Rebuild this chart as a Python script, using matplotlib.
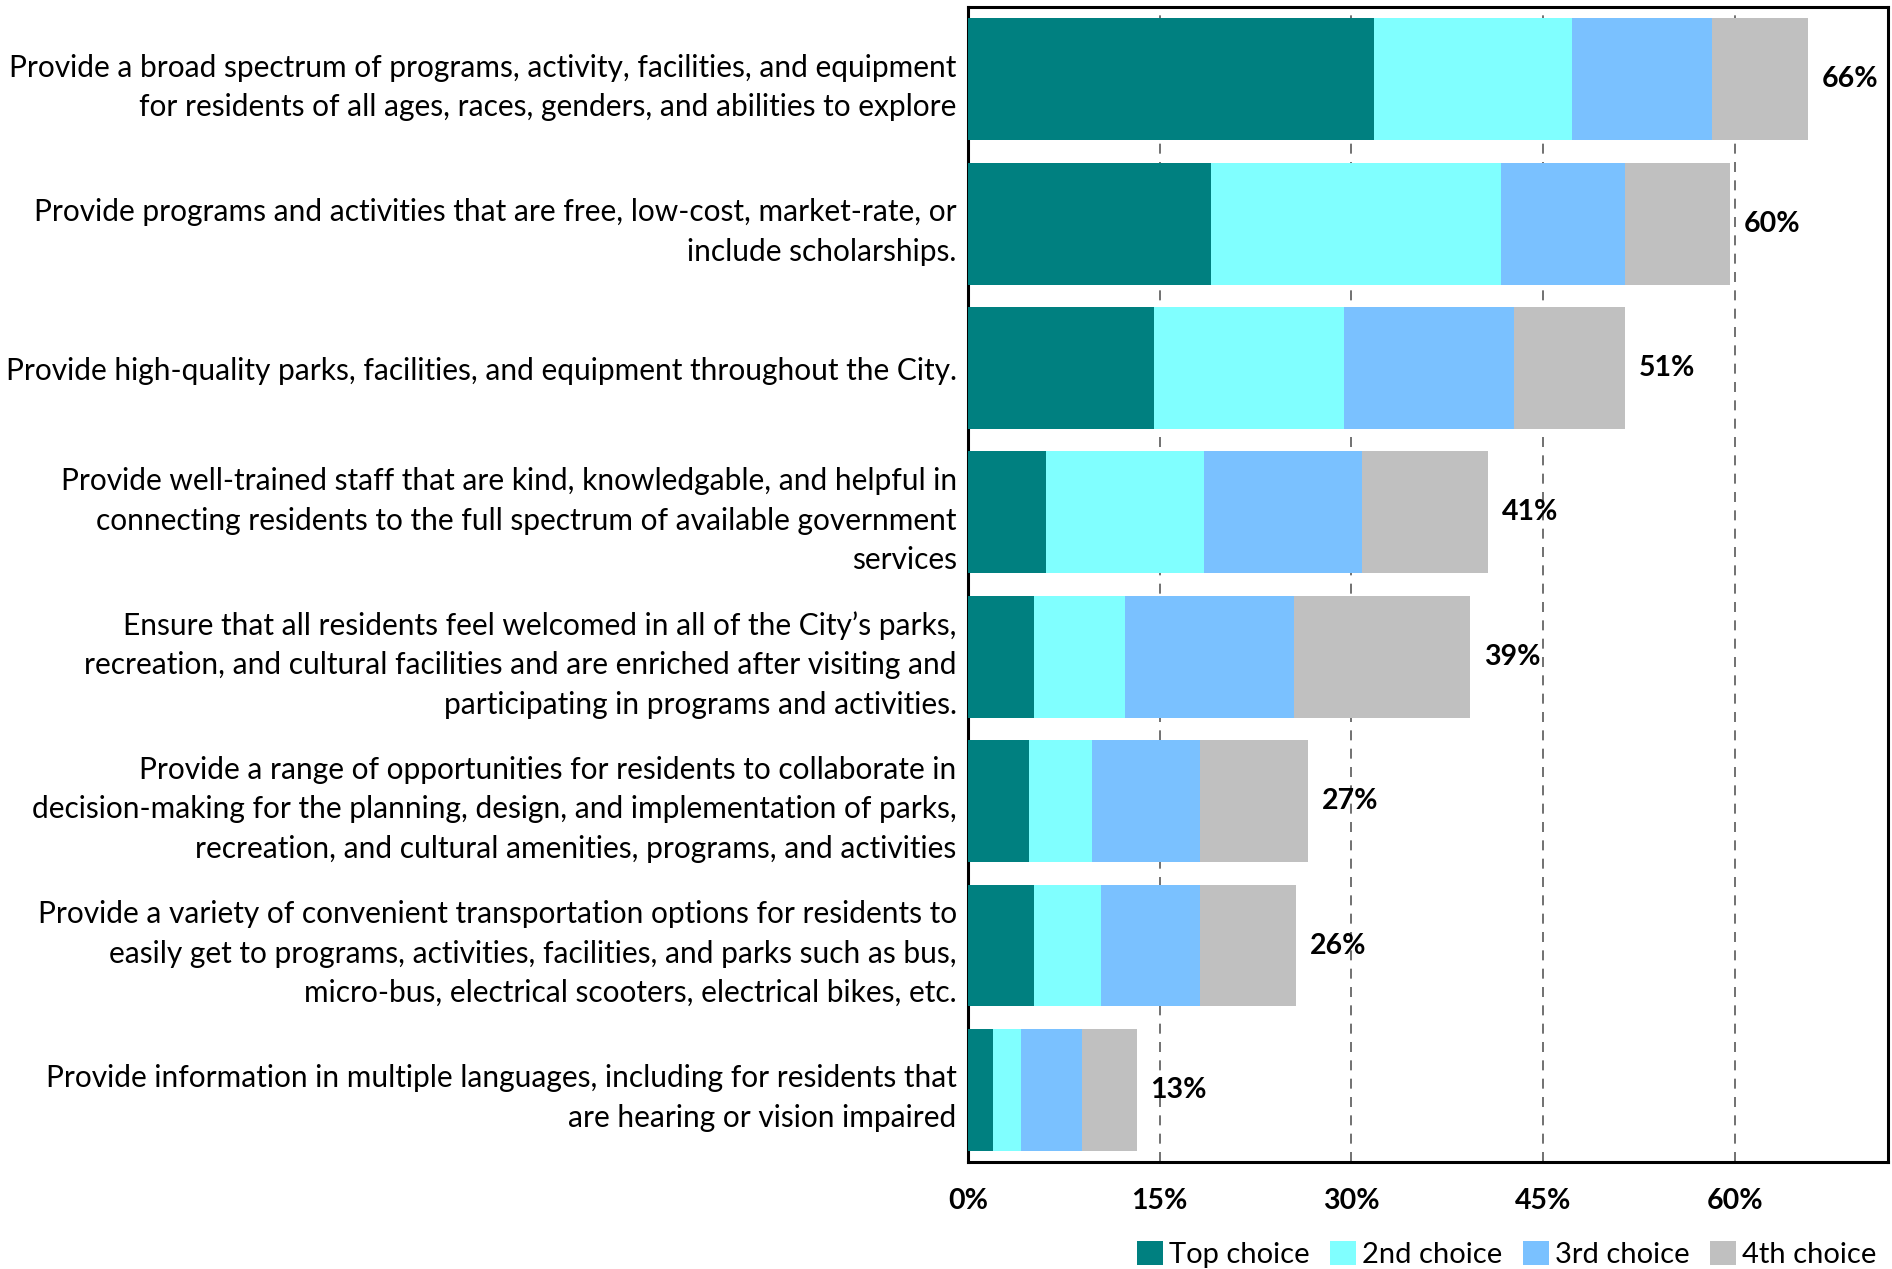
import matplotlib.pyplot as plt
import numpy as np

plt.rcParams['font.family'] = ['Lato', 'DejaVu Sans']

# survey items, top to bottom
items = [
    "Provide a broad spectrum of programs, activity, facilities, and equipment\nfor residents of all ages, races, genders, and abilities to explore",
    "Provide programs and activities that are free, low-cost, market-rate, or\ninclude scholarships.",
    "Provide high-quality parks, facilities, and equipment throughout the City.",
    "Provide well-trained staff that are kind, knowledgable, and helpful in\nconnecting residents to the full spectrum of available government\nservices",
    "Ensure that all residents feel welcomed in all of the City\u2019s parks,\nrecreation, and cultural facilities and are enriched after visiting and\nparticipating in programs and activities.",
    "Provide a range of opportunities for residents to collaborate in\ndecision-making for the planning, design, and implementation of parks,\nrecreation, and cultural amenities, programs, and activities",
    "Provide a variety of convenient transportation options for residents to\neasily get to programs, activities, facilities, and parks such as bus,\nmicro-bus, electrical scooters, electrical bikes, etc.",
    "Provide information in multiple languages, including for residents that\nare hearing or vision impaired",
]

# percent of respondents
top_choice = [31.8, 19.0, 14.6, 6.1, 5.2, 4.8, 5.2, 2.0]
second_choice = [15.5, 22.7, 14.8, 12.4, 7.1, 4.9, 5.2, 2.2]
third_choice = [10.9, 9.7, 13.3, 12.3, 13.2, 8.5, 7.8, 4.7]
fourth_choice = [7.5, 8.2, 8.7, 9.9, 13.8, 8.4, 7.5, 4.3]

series = ["Top choice", "2nd choice", "3rd choice", "4th choice"]
colors = ["#008080", "#80FFFF", "#7AC1FF", "#C0C0C0"]
xticks = [0, 15, 30, 45, 60]

fig = plt.figure(figsize=(18.92, 12.69), dpi=100)
ax = fig.add_axes([0.5115, 0.0843, 0.4865, 0.91])

y = np.arange(len(items))
left = np.zeros(len(items))
for name, vals, c in zip(series, [top_choice, second_choice, third_choice, fourth_choice], colors):
    ax.barh(y, vals, left=left, height=0.845, color=c, label=name, zorder=3)
    left += np.array(vals)

for yi, tot in zip(y, left):
    ax.annotate(f"{tot:.0f}%", (tot, yi), xytext=(10, 0), textcoords='offset points',
                va='center', ha='left', fontsize=20.5, fontweight='bold')

ax.set_xlim(0, 72)
ax.set_ylim(len(items) - 0.5, -0.5)
ax.set_xticks(xticks)
ax.set_xticklabels([f"{t}%" for t in xticks], fontsize=20.5, fontweight='bold')
ax.set_yticks(y)
ax.set_yticklabels(items, fontsize=21.5, linespacing=1.5, ha='right')
ax.tick_params(axis='x', length=0, pad=19)
ax.tick_params(axis='y', length=0, pad=8)

for v in xticks[1:]:
    ax.axvline(v, color='#595959', lw=1.2, ls=(0, (6, 5)), zorder=1)

for s in ax.spines.values():
    s.set_linewidth(2.2)
    s.set_color('black')

ax.legend(loc='center right', bbox_to_anchor=(1.0, -0.08), ncol=4, frameon=False,
          fontsize=21, handlelength=0.9, handleheight=0.9, handletextpad=0.2,
          columnspacing=0.7, borderaxespad=0)

fig.savefig("out.png", dpi=100)
